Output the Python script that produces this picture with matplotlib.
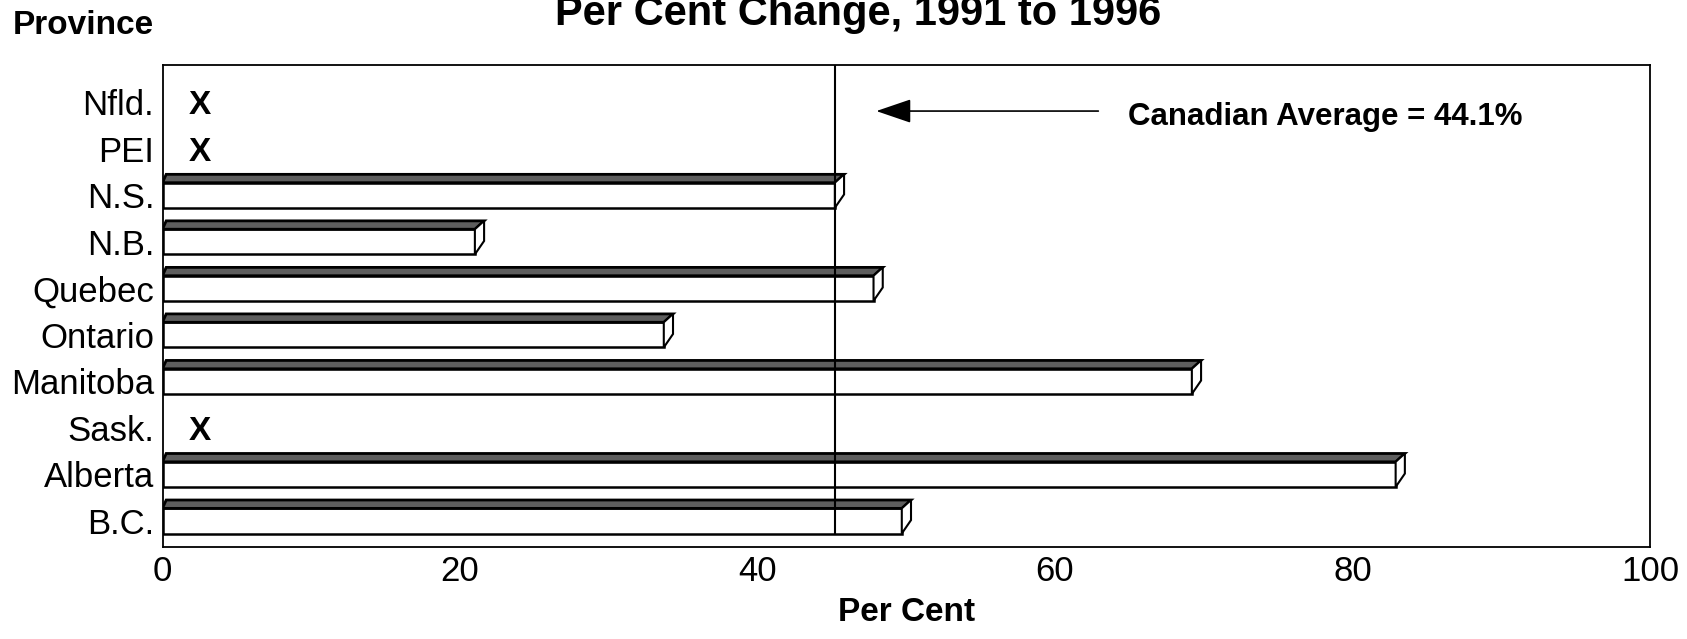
import numpy as np
import matplotlib
matplotlib.use("Agg")
import matplotlib.pyplot as plt
from matplotlib.patches import Polygon

provinces = ['Nfld.', 'PEI', 'N.S.', 'N.B.', 'Quebec', 'Ontario',
             'Manitoba', 'Sask.', 'Alberta', 'B.C.']
# nan = no data (shown as X)
pct_change = [np.nan, np.nan, 45.2, 21.0, 47.8, 33.7, 69.2, np.nan, 82.9, 49.7]
avg_label = 44.1
avg_line = 45.2
xticks = [0, 20, 40, 60, 80, 100]

plt.rcParams['font.family'] = ['Liberation Sans', 'DejaVu Sans']

fig = plt.figure(figsize=(16.87, 6.39), dpi=100)
ax = fig.add_axes([162.5 / 1687, 1 - 547 / 639, (1650 - 162.5) / 1687, (547 - 65) / 639])

h = 0.54      # front face height
dx = 0.62     # depth offset in x (data units)
dy = 0.18     # depth offset in y (data units)

y = np.arange(len(provinces))
for i, v in enumerate(pct_change):
    if np.isnan(v):
        ax.text(2.5, i + 0.08, 'X', fontsize=24, fontweight='bold',
                ha='center', va='center')
        continue
    top = i - h / 2
    ax.barh(i, v, height=h, left=0, color='white', edgecolor='black',
            linewidth=1.8, zorder=2)
    ax.add_patch(Polygon([(0, top), (v, top), (v + dx, top - dy), (dx * 0.4, top - dy)],
                         closed=True, facecolor='#5e5e5e', edgecolor='black',
                         linewidth=2.0, zorder=2))
    ax.add_patch(Polygon([(v, top), (v + dx, top - dy), (v + dx, top + h - dy * 1.6), (v, top + h)],
                         closed=True, facecolor='white', edgecolor='black',
                         linewidth=1.5, zorder=2))

ax.plot([avg_line, avg_line], [-0.8, 9 + h / 2], color='black', lw=1.5, zorder=3)

ax.annotate('', xy=(47.8, 0.19), xytext=(63.1, 0.19),
            arrowprops=dict(arrowstyle='-|>,head_length=2.2,head_width=0.75',
                            color='black', lw=1.2))
ax.text(64.9, 0.32, 'Canadian Average = %.1f%%' % avg_label, fontsize=22.5,
        fontweight='bold', ha='left', va='center')

ax.set_xlim(0, 100)
ax.set_ylim(9.56, -0.8)
ax.set_xticks(xticks)
ax.set_xticklabels([str(t) for t in xticks], fontsize=25)
ax.set_yticks(y)
ax.set_yticklabels(provinces, fontsize=25)
ax.tick_params(length=0, pad=6)
for s in ax.spines.values():
    s.set_linewidth(1.3)

ax.set_xlabel('Per Cent', fontsize=24, fontweight='bold', labelpad=6)
fig.text(13 / 1687, 1 - 25 / 639, 'Province', fontsize=24, fontweight='bold',
         ha='left', va='center')
fig.text(858 / 1687, 1 - 25 / 639, 'Per Cent Change, 1991 to 1996', fontsize=30,
         fontweight='bold', ha='center', va='baseline')

fig.savefig('out.png', dpi=100, facecolor='white')
